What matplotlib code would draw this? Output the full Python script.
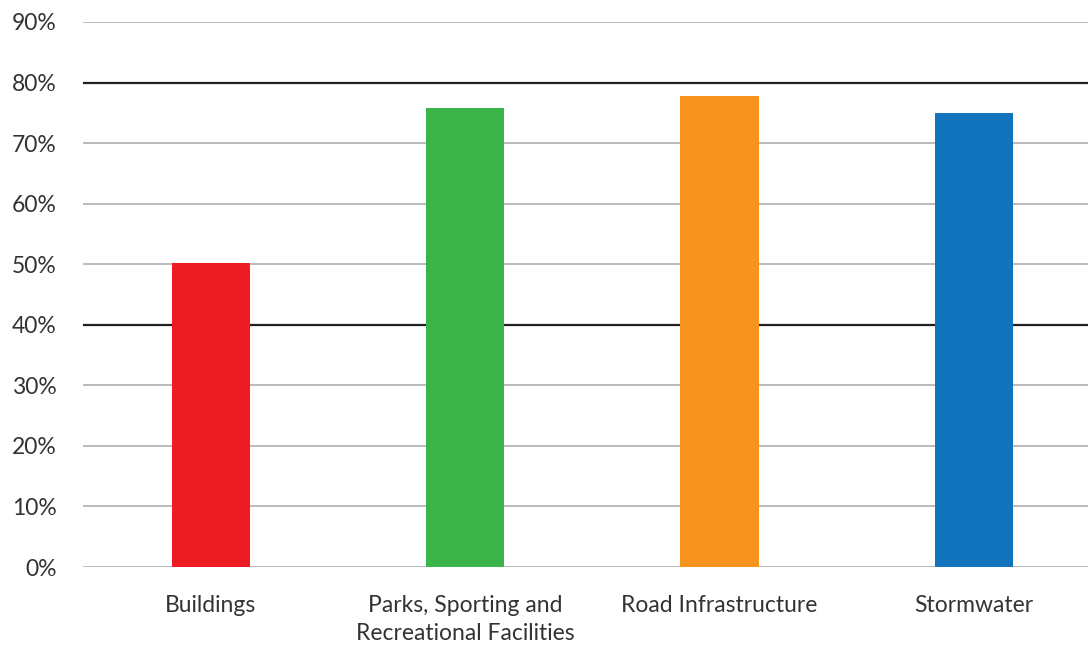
import matplotlib
matplotlib.use("Agg")
from matplotlib import pyplot as plt
from matplotlib.ticker import FuncFormatter

categories = ["Buildings", "Parks, Sporting and\nRecreational Facilities", "Road Infrastructure", "Stormwater"]
values = [50.2, 75.8, 77.8, 75.0]
colors = ["#ed1c24", "#3bb44a", "#f7941d", "#1174bc"]
yticks = [0, 10, 20, 30, 40, 50, 60, 70, 80, 90]
dark_lines = [40, 80]

plt.rcParams['font.family'] = ['Lato', 'DejaVu Sans']

fig = plt.figure(figsize=(10.88, 6.48), dpi=100)
ax = fig.add_axes([83/1088, 81/648, 1 - 83/1088, (567 - 22)/648])

ax.set_ylim(0, 90)
ax.set_xlim(-0.503, 3.449)
ax.set_yticks(yticks)
ax.yaxis.set_major_formatter(FuncFormatter(lambda v, p: f"{v:.0f}%"))

# horizontal lines, 40% and 80% in black
for y in yticks:
    if y in dark_lines:
        ax.axhline(y, color='#231f20', linewidth=1.6, zorder=1)
    else:
        ax.axhline(y, color='#b5b5b5', linewidth=1.3, zorder=0)

ax.bar(range(len(categories)), values, width=0.307, color=colors, zorder=2)

ax.set_xticks(range(len(categories)))
ax.set_xticklabels(categories, fontsize=16.5, color='#333333', linespacing=1.45)
ax.tick_params(axis='x', length=0, pad=20)
ax.tick_params(axis='y', length=0, pad=19, labelsize=16.5, labelcolor='#333333')
for s in ax.spines.values():
    s.set_visible(False)

fig.savefig('out.png', dpi=100)
